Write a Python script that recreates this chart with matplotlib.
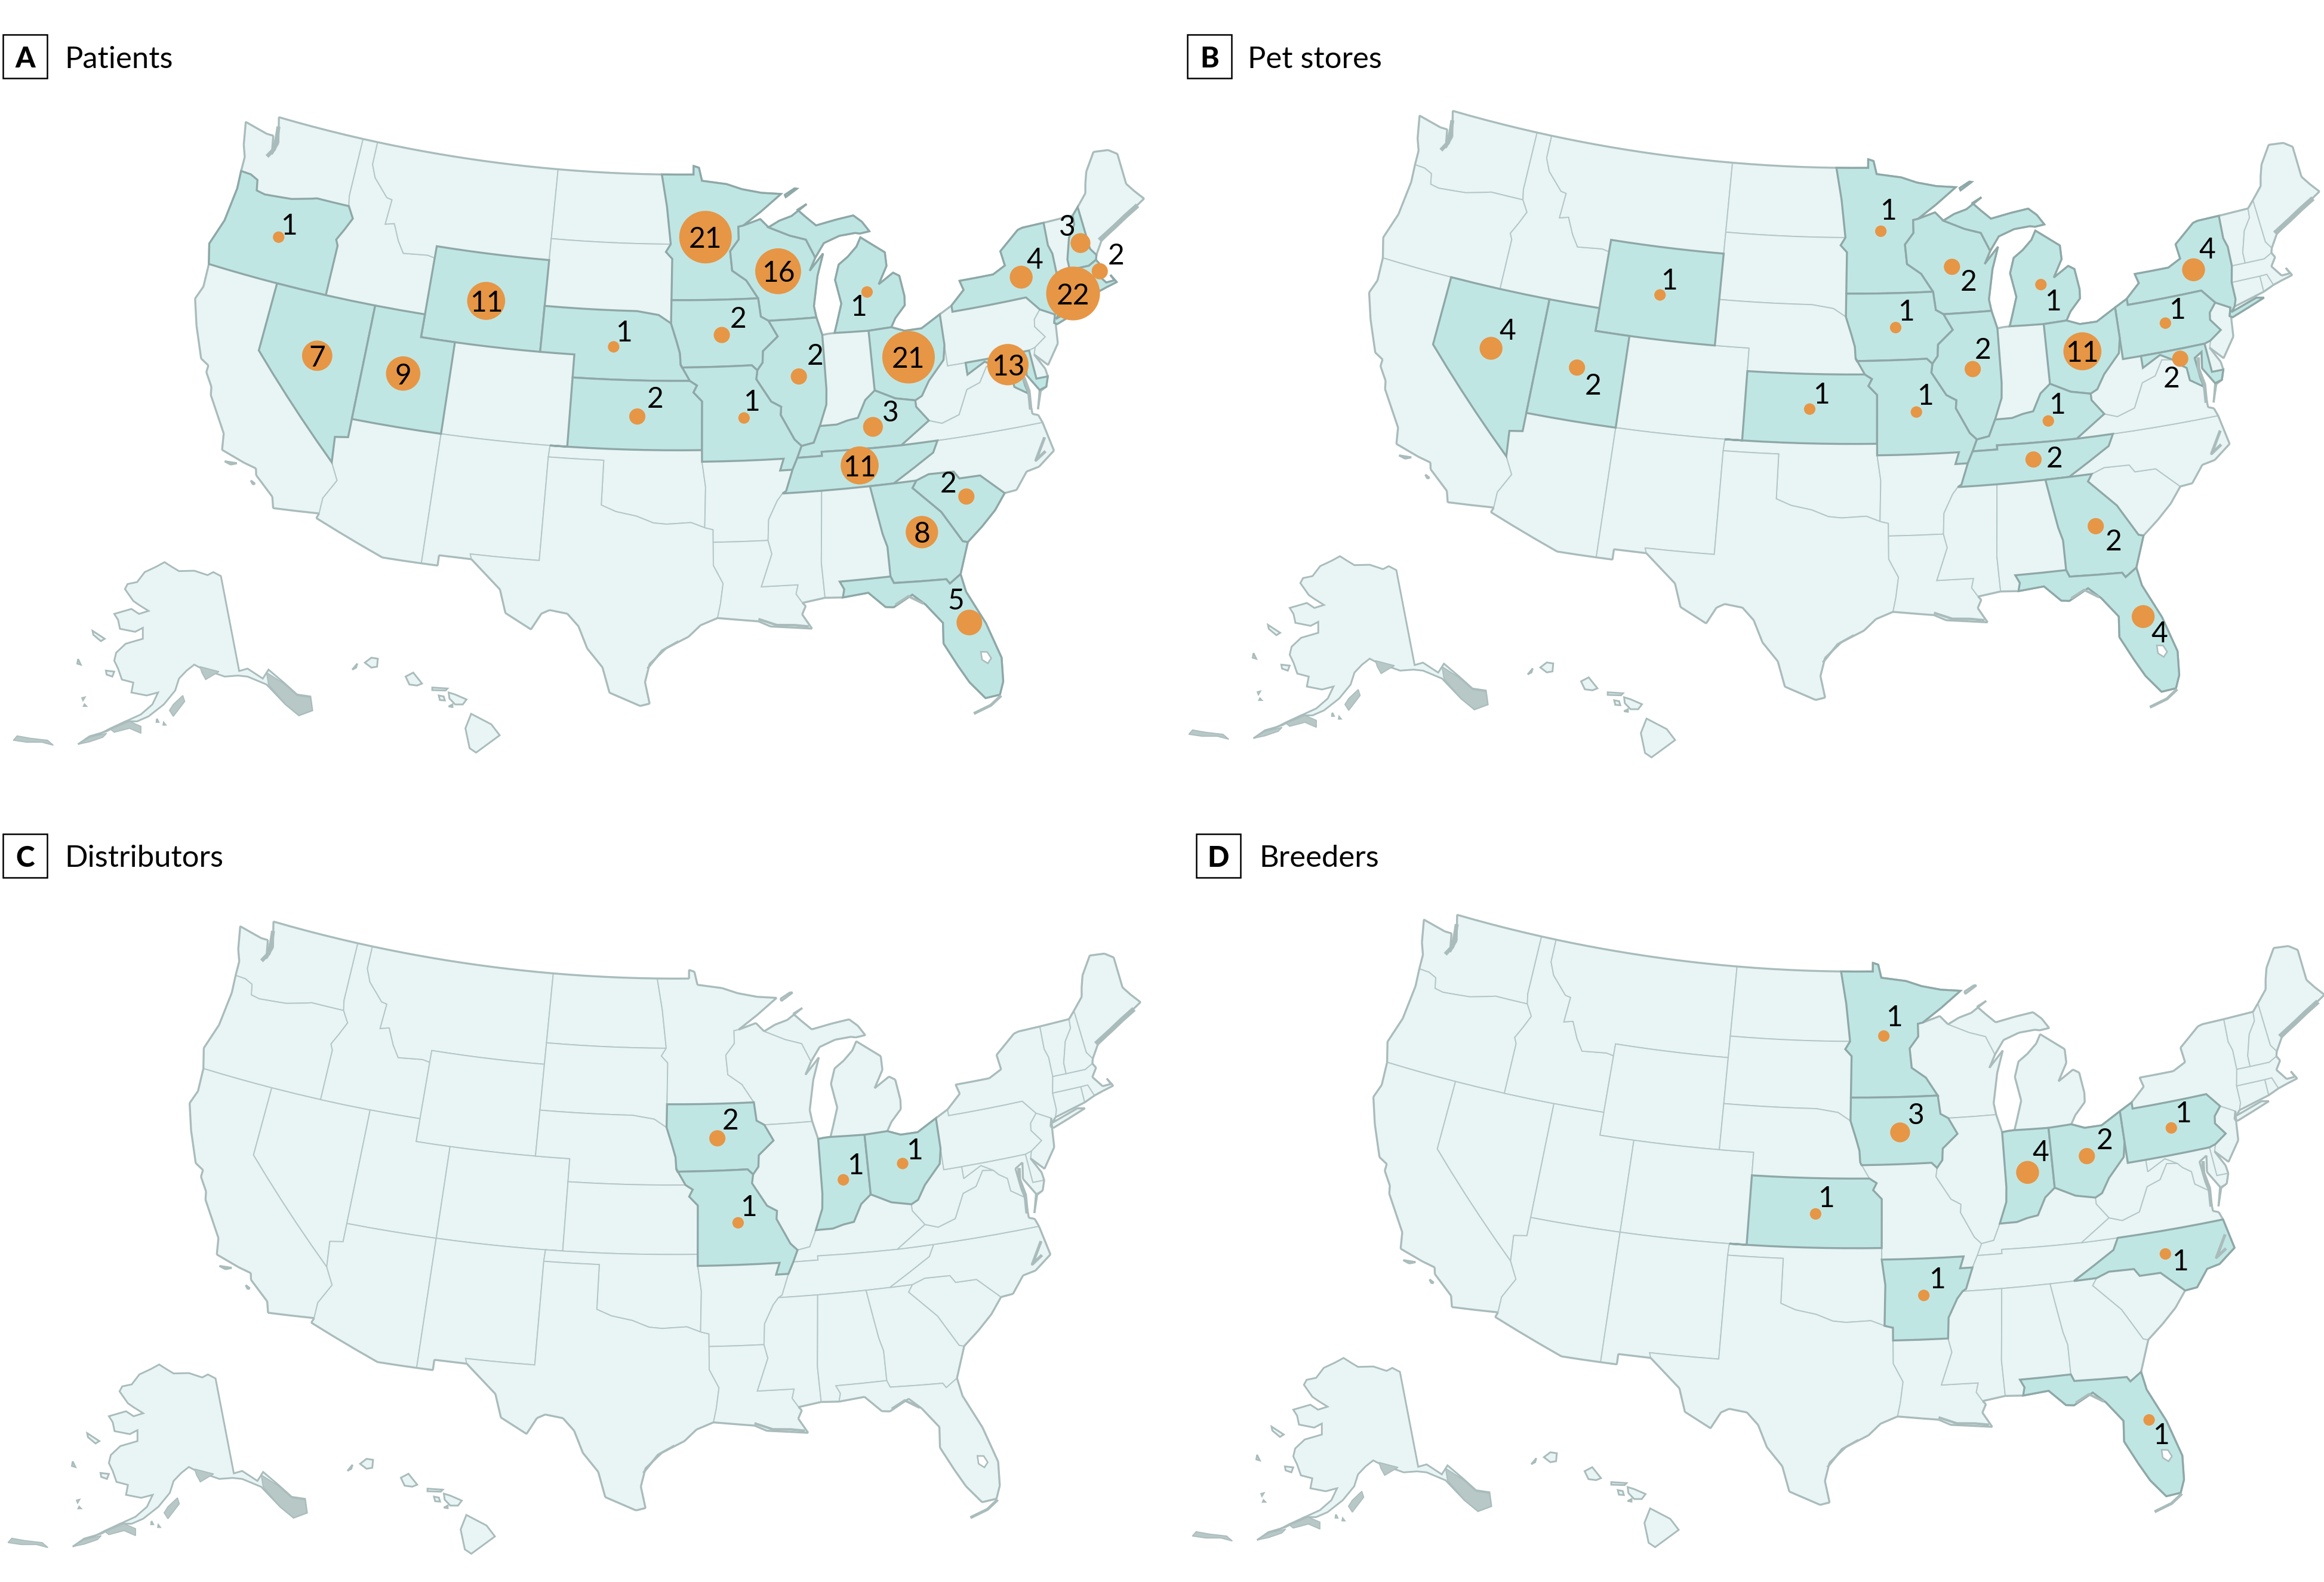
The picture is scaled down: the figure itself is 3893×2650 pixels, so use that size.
import numpy as np
import matplotlib
matplotlib.use("Agg")
import matplotlib.pyplot as plt
from matplotlib.collections import LineCollection
from matplotlib.patches import Rectangle

W, H = 3893, 2650
DPI = 300
SCALE = 3893 / 1568  # dot and label positions were read on the 1568 wide view

FILL_LIGHT = "#e9f4f5"
FILL_ON = "#c0e6e4"
EDGE_LIGHT = "#b3c6c6"
EDGE_ON = "#8ea8a7"
COAST = "#a9bcbb"
DOT = "#e69645"

# state outlines, lon/lat
STATES = {
    "WA": [[(-124.73,48.38),(-123.2,48.15),(-122.75,48.15),(-122.5,47.35),(-122.3,47.9),(-122.75,49.0),(-117.03,49.0),(-117.04,46.42),(-116.92,45.99),(-118.98,46.0),(-119.3,45.93),(-120.5,45.7),(-121.2,45.65),(-122.2,45.58),(-122.75,45.65),(-122.9,46.1),(-123.4,46.25),(-124.05,46.27),(-124.1,46.9),(-124.4,47.4)]],
    "OR": [[(-123.4,46.25),(-122.9,46.1),(-122.75,45.65),(-122.2,45.58),(-121.2,45.65),(-120.5,45.7),(-119.3,45.93),(-118.98,46.0),(-116.92,45.99),(-116.5,45.5),(-116.85,44.95),(-117.2,44.45),(-117.03,44.2),(-117.03,42.0),(-120.0,42.0),(-124.2,42.0),(-124.55,42.85),(-124.1,44.0),(-123.95,45.5),(-124.05,46.27)]],
    "CA": [[(-124.2,42.0),(-120.0,42.0),(-120.0,39.0),(-114.63,35.0),(-114.15,34.27),(-114.7,33.4),(-114.72,32.72),(-117.12,32.53),(-117.3,33.0),(-118.4,33.75),(-118.5,34.03),(-119.2,34.15),(-120.5,34.45),(-120.65,35.15),(-121.9,36.6),(-122.0,36.95),(-122.5,37.5),(-122.5,37.8),(-123.0,38.0),(-123.8,39.3),(-124.35,40.4),(-124.1,41.0)],
           [(-120.2,34.0),(-119.55,34.05),(-119.85,33.93)],
           [(-118.6,33.47),(-118.35,33.38),(-118.45,33.33)]],
    "NV": [[(-120.0,42.0),(-117.03,42.0),(-114.04,42.0),(-114.04,37.0),(-114.04,36.2),(-114.75,36.1),(-114.63,35.0),(-120.0,39.0)]],
    "ID": [[(-117.03,49.0),(-116.05,49.0),(-116.05,48.0),(-115.7,47.45),(-114.7,46.7),(-114.35,46.65),(-114.45,45.55),(-113.9,45.65),(-113.45,44.95),(-113.0,44.45),(-111.5,44.55),(-111.05,44.48),(-111.05,42.0),(-114.04,42.0),(-117.03,42.0),(-117.03,44.2),(-117.2,44.45),(-116.85,44.95),(-116.5,45.5),(-116.92,45.99),(-117.04,46.42)]],
    "MT": [[(-116.05,49.0),(-104.05,49.0),(-104.05,45.94),(-104.05,45.0),(-111.05,45.0),(-111.05,44.48),(-111.5,44.55),(-113.0,44.45),(-113.45,44.95),(-113.9,45.65),(-114.45,45.55),(-114.35,46.65),(-114.7,46.7),(-115.7,47.45),(-116.05,48.0)]],
    "WY": [[(-111.05,45.0),(-104.05,45.0),(-104.05,43.0),(-104.05,41.0),(-109.05,41.0),(-111.05,41.0),(-111.05,42.0),(-111.05,44.48)]],
    "UT": [[(-114.04,42.0),(-111.05,42.0),(-111.05,41.0),(-109.05,41.0),(-109.05,37.0),(-114.04,37.0)]],
    "CO": [[(-109.05,41.0),(-104.05,41.0),(-102.05,41.0),(-102.05,40.0),(-102.05,37.0),(-103.0,37.0),(-109.05,37.0)]],
    "AZ": [[(-114.04,37.0),(-109.05,37.0),(-109.05,31.33),(-111.07,31.33),(-114.81,32.5),(-114.72,32.72),(-114.7,33.4),(-114.15,34.27),(-114.63,35.0),(-114.75,36.1),(-114.04,36.2)]],
    "NM": [[(-109.05,37.0),(-103.0,37.0),(-103.04,36.5),(-103.04,32.0),(-106.62,32.0),(-106.53,31.78),(-108.21,31.78),(-108.21,31.33),(-109.05,31.33)]],
    "ND": [[(-104.05,49.0),(-97.23,49.0),(-96.85,47.6),(-96.56,45.94),(-104.05,45.94)]],
    "SD": [[(-104.05,45.94),(-96.56,45.94),(-96.85,45.6),(-96.45,45.3),(-96.45,43.5),(-96.45,42.49),(-97.2,42.85),(-98.5,43.0),(-104.05,43.0),(-104.05,45.0)]],
    "NE": [[(-104.05,43.0),(-98.5,43.0),(-97.2,42.85),(-96.45,42.49),(-96.1,41.7),(-95.9,41.2),(-95.85,40.7),(-95.31,40.0),(-102.05,40.0),(-102.05,41.0),(-104.05,41.0)]],
    "KS": [[(-102.05,40.0),(-95.31,40.0),(-94.9,39.8),(-95.1,39.5),(-94.61,39.11),(-94.62,37.0),(-103.0,37.0),(-102.05,37.0)]],
    "OK": [[(-103.0,37.0),(-94.62,37.0),(-94.62,36.5),(-94.43,35.4),(-94.48,33.64),(-95.2,33.87),(-96.5,33.8),(-97.2,33.85),(-98.1,34.13),(-99.2,34.3),(-100.0,34.56),(-100.0,36.5),(-103.04,36.5)]],
    "TX": [[(-103.04,36.5),(-100.0,36.5),(-100.0,34.56),(-99.2,34.3),(-98.1,34.13),(-97.2,33.85),(-96.5,33.8),(-95.2,33.87),(-94.48,33.64),(-94.04,33.55),(-94.04,33.0),(-94.04,32.0),(-93.55,31.2),(-93.7,30.3),(-93.85,29.7),(-94.7,29.4),(-95.3,28.9),(-96.4,28.4),(-97.2,27.7),(-97.4,26.9),(-97.15,25.96),(-97.6,25.85),(-99.1,26.4),(-99.5,27.5),(-100.3,28.3),(-100.8,29.25),(-101.4,29.77),(-102.3,29.88),(-102.7,29.7),(-103.15,28.98),(-104.5,29.6),(-104.9,30.6),(-106.53,31.78),(-106.62,32.0),(-103.04,32.0)]],
    "MN": [[(-97.23,49.0),(-95.15,49.0),(-95.15,49.38),(-94.8,49.3),(-94.6,48.72),(-93.0,48.55),(-92.0,48.3),(-90.75,48.1),(-89.5,48.0),(-90.8,47.3),(-92.0,46.7),(-92.3,46.66),(-92.3,46.1),(-92.85,45.6),(-92.75,44.75),(-91.9,44.3),(-91.22,43.5),(-96.45,43.5),(-96.45,45.3),(-96.85,45.6),(-96.56,45.94),(-96.85,47.6)]],
    "IA": [[(-96.45,43.5),(-91.22,43.5),(-91.1,42.7),(-90.65,42.5),(-90.15,41.8),(-91.05,41.2),(-91.1,40.7),(-91.42,40.38),(-91.73,40.61),(-95.77,40.58),(-95.85,40.7),(-95.9,41.2),(-96.1,41.7),(-96.45,42.49)]],
    "MO": [[(-95.77,40.58),(-91.73,40.61),(-91.42,40.38),(-91.5,40.0),(-90.7,39.0),(-90.15,38.75),(-90.2,38.4),(-89.5,37.3),(-89.13,37.0),(-89.4,36.5),(-89.7,36.0),(-90.37,36.0),(-90.15,36.5),(-94.62,36.5),(-94.62,37.0),(-94.61,39.11),(-95.1,39.5),(-94.9,39.8),(-95.31,40.0),(-95.85,40.7)]],
    "AR": [[(-94.62,36.5),(-90.15,36.5),(-90.37,36.0),(-89.7,36.0),(-90.1,35.1),(-90.3,35.0),(-90.6,34.7),(-91.1,33.9),(-91.17,33.0),(-94.04,33.0),(-94.04,33.55),(-94.48,33.64),(-94.43,35.4)]],
    "LA": [[(-94.04,33.0),(-91.17,33.0),(-91.0,32.4),(-91.6,31.0),(-89.73,31.0),(-89.85,30.6),(-89.55,30.2),(-89.4,30.05),(-89.6,29.7),(-89.15,29.05),(-90.1,29.15),(-91.2,29.25),(-91.8,29.5),(-92.6,29.58),(-93.85,29.7),(-93.7,30.3),(-93.55,31.2),(-94.04,32.0)]],
    "WI": [[(-92.3,46.66),(-92.0,46.7),(-90.9,46.95),(-90.4,46.57),(-89.1,46.15),(-88.1,45.92),(-87.6,45.1),(-88.0,44.55),(-87.1,45.25),(-87.55,44.3),(-87.9,43.0),(-87.8,42.5),(-90.65,42.5),(-91.1,42.7),(-91.22,43.5),(-91.9,44.3),(-92.75,44.75),(-92.85,45.6),(-92.3,46.1)]],
    "IL": [[(-90.65,42.5),(-87.8,42.5),(-87.53,41.72),(-87.53,39.35),(-87.6,38.7),(-88.05,37.8),(-88.45,37.1),(-89.13,37.0),(-89.5,37.3),(-90.2,38.4),(-90.15,38.75),(-90.7,39.0),(-91.5,40.0),(-91.42,40.38),(-91.1,40.7),(-91.05,41.2),(-90.15,41.8)]],
    "IN": [[(-87.53,41.72),(-87.2,41.75),(-86.8,41.76),(-84.8,41.7),(-84.81,39.1),(-85.4,38.73),(-85.9,38.0),(-86.5,37.93),(-87.1,37.8),(-88.05,37.8),(-87.6,38.7),(-87.53,39.35)]],
    "MI": [[(-86.8,41.76),(-84.8,41.7),(-83.45,41.73),(-83.15,42.1),(-82.5,42.6),(-82.45,43.0),(-82.6,43.9),(-82.95,44.07),(-83.9,43.65),(-83.3,44.4),(-83.3,45.0),(-84.7,45.78),(-85.0,45.4),(-85.6,45.0),(-86.2,44.7),(-86.5,44.05),(-86.25,43.0),(-86.6,42.2)],
           [(-90.4,46.57),(-89.1,46.15),(-88.1,45.92),(-87.6,45.1),(-87.0,45.7),(-86.0,45.95),(-85.0,46.0),(-84.7,45.95),(-84.1,46.0),(-84.5,46.45),(-85.0,46.77),(-86.1,46.67),(-87.4,46.5),(-88.0,46.9),(-88.5,47.25),(-87.9,47.47),(-88.9,47.0),(-89.7,46.83)],
           [(-89.2,47.85),(-88.45,48.18),(-88.6,48.2),(-89.25,47.95)]],
    "OH": [[(-84.8,41.7),(-83.45,41.73),(-82.7,41.5),(-81.7,41.5),(-80.52,41.98),(-80.52,40.64),(-80.7,40.0),(-81.7,39.2),(-82.2,38.6),(-82.6,38.45),(-83.7,38.65),(-84.81,39.1)]],
    "KY": [[(-89.4,36.5),(-88.05,36.5),(-88.05,36.68),(-86.5,36.65),(-83.68,36.6),(-82.0,37.5),(-82.6,38.17),(-82.6,38.45),(-83.7,38.65),(-84.81,39.1),(-85.4,38.73),(-85.9,38.0),(-86.5,37.93),(-87.1,37.8),(-88.05,37.8),(-88.45,37.1),(-89.13,37.0)]],
    "TN": [[(-89.7,36.0),(-89.4,36.5),(-88.05,36.5),(-88.05,36.68),(-86.5,36.65),(-83.68,36.6),(-81.68,36.59),(-82.0,36.1),(-84.32,35.0),(-85.6,35.0),(-88.2,35.0),(-90.3,35.0),(-90.1,35.1)]],
    "MS": [[(-90.3,35.0),(-88.2,35.0),(-88.47,31.9),(-88.4,30.35),(-89.55,30.2),(-89.85,30.6),(-89.73,31.0),(-91.6,31.0),(-91.0,32.4),(-91.17,33.0),(-91.1,33.9),(-90.6,34.7)]],
    "AL": [[(-88.2,35.0),(-85.6,35.0),(-85.18,32.87),(-85.0,32.3),(-85.0,31.0),(-87.6,31.0),(-87.4,30.65),(-87.5,30.3),(-88.4,30.35),(-88.47,31.9)]],
    "GA": [[(-85.6,35.0),(-84.32,35.0),(-83.1,35.0),(-83.35,34.7),(-82.0,33.5),(-81.1,32.1),(-80.85,32.03),(-81.45,30.7),(-82.05,30.36),(-82.2,30.57),(-84.86,30.7),(-85.0,31.0),(-85.0,32.3),(-85.18,32.87)]],
    "FL": [[(-87.6,31.0),(-85.0,31.0),(-84.86,30.7),(-82.2,30.57),(-82.05,30.36),(-81.45,30.7),(-81.3,29.9),(-80.55,28.4),(-80.05,26.8),(-80.15,25.75),(-80.4,25.2),(-81.1,25.15),(-81.75,25.95),(-82.2,26.75),(-82.75,27.8),(-82.65,28.7),(-83.4,29.6),(-84.0,30.1),(-85.0,29.65),(-85.4,29.7),(-86.2,30.4),(-87.5,30.3),(-87.4,30.65)]],
    "SC": [[(-83.35,34.7),(-83.1,35.0),(-82.4,35.2),(-81.05,35.15),(-80.8,34.82),(-79.68,34.8),(-78.55,33.86),(-79.2,33.2),(-80.0,32.6),(-80.85,32.03),(-81.1,32.1),(-82.0,33.5)]],
    "NC": [[(-84.32,35.0),(-83.1,35.0),(-82.4,35.2),(-81.05,35.15),(-80.8,34.82),(-79.68,34.8),(-78.55,33.86),(-77.9,33.9),(-77.2,34.6),(-76.5,34.7),(-75.55,35.25),(-75.85,36.55),(-81.68,36.59),(-82.0,36.1)]],
    "VA": [[(-83.68,36.6),(-81.68,36.59),(-75.85,36.55),(-76.0,36.9),(-76.3,37.0),(-76.3,37.9),(-77.0,38.3),(-77.05,38.85),(-77.5,39.1),(-77.75,39.32),(-78.35,39.4),(-78.87,38.77),(-79.65,38.57),(-80.3,37.55),(-81.3,37.3),(-82.0,37.5)],
           [(-75.95,37.15),(-75.6,37.9),(-75.25,38.03),(-75.65,37.95)]],
    "WV": [[(-82.0,37.5),(-82.6,38.17),(-82.6,38.45),(-82.2,38.6),(-81.7,39.2),(-80.7,40.0),(-80.52,40.64),(-80.52,39.72),(-79.48,39.72),(-79.48,39.2),(-78.4,39.62),(-77.75,39.32),(-78.35,39.4),(-78.87,38.77),(-79.65,38.57),(-80.3,37.55),(-81.3,37.3)]],
    "PA": [[(-80.52,41.98),(-79.76,42.27),(-79.76,42.0),(-75.35,42.0),(-74.7,41.36),(-75.13,40.99),(-75.2,40.68),(-74.72,40.15),(-75.42,39.8),(-75.79,39.72),(-79.48,39.72),(-80.52,39.72),(-80.52,40.64)]],
    "NY": [[(-79.76,42.27),(-78.9,42.85),(-79.05,43.27),(-77.0,43.27),(-76.2,43.55),(-76.3,44.2),(-75.0,44.95),(-74.7,45.0),(-73.35,45.0),(-73.4,44.0),(-73.25,43.6),(-73.27,42.75),(-73.5,42.05),(-73.5,41.3),(-73.65,41.0),(-73.9,40.8),(-72.3,41.15),(-71.87,41.07),(-73.9,40.57),(-74.05,40.65),(-73.9,41.0),(-74.7,41.36),(-75.35,42.0),(-79.76,42.0)]],
    "NJ": [[(-73.9,41.0),(-74.7,41.36),(-75.13,40.99),(-75.2,40.68),(-74.72,40.15),(-75.42,39.8),(-75.55,39.5),(-74.9,38.93),(-74.1,39.75),(-74.0,40.45)]],
    "DE": [[(-75.79,39.72),(-75.42,39.8),(-75.55,39.5),(-75.1,38.8),(-75.05,38.45),(-75.7,38.46)]],
    "MD": [[(-79.48,39.72),(-75.79,39.72),(-75.7,38.46),(-75.05,38.45),(-75.25,38.03),(-75.65,37.95),(-76.2,38.7),(-76.05,39.4),(-76.5,39.2),(-76.4,38.3),(-76.3,37.9),(-77.0,38.3),(-77.05,38.85),(-77.5,39.1),(-77.75,39.32),(-78.4,39.62),(-79.48,39.2)]],
    "CT": [[(-73.5,42.05),(-71.8,42.02),(-71.8,41.32),(-73.65,41.0),(-73.5,41.3)]],
    "RI": [[(-71.8,42.02),(-71.38,42.02),(-71.15,41.5),(-71.8,41.32)]],
    "MA": [[(-73.5,42.05),(-73.27,42.75),(-72.46,42.73),(-71.3,42.7),(-70.8,42.87),(-70.65,42.65),(-71.0,42.3),(-70.55,41.8),(-70.05,41.8),(-70.2,42.07),(-69.95,41.7),(-70.6,41.6),(-71.15,41.5),(-71.38,42.02),(-71.8,42.02)]],
    "VT": [[(-73.35,45.0),(-71.5,45.0),(-71.55,44.6),(-72.05,44.1),(-72.45,43.2),(-72.46,42.73),(-73.27,42.75),(-73.25,43.6),(-73.4,44.0)]],
    "NH": [[(-71.5,45.0),(-71.08,45.3),(-70.98,43.4),(-70.7,43.07),(-70.8,42.87),(-71.3,42.7),(-72.46,42.73),(-72.45,43.2),(-72.05,44.1),(-71.55,44.6)]],
    "ME": [[(-71.08,45.3),(-70.4,45.8),(-70.25,46.2),(-70.0,46.7),(-69.23,47.45),(-68.3,47.35),(-67.8,47.07),(-67.8,45.7),(-67.45,45.3),(-67.0,44.85),(-68.5,44.3),(-69.0,44.1),(-70.2,43.6),(-70.7,43.07),(-70.98,43.4)]],
}

# rough coast detail, lon/lat, with line widths
COAST_DETAIL = [
    [(-122.75,47.2),(-122.45,47.6),(-122.5,48.1),(-122.6,48.6)],
    [(-70.3,43.65),(-69.2,44.05),(-68.4,44.35),(-67.5,44.65)],
    [(-76.35,37.2),(-76.25,38.0),(-76.4,38.7),(-76.3,39.2)],
    [(-76.0,35.3),(-76.6,35.0),(-75.9,35.9)],
    [(-91.8,29.6),(-90.9,29.3),(-90.0,29.25),(-89.3,29.15)],
    [(-80.35,25.15),(-80.9,24.8),(-81.75,24.55)],
    [(-97.3,27.5),(-96.6,28.3),(-95.8,28.7)],
    [(-84.9,29.75),(-84.2,30.05),(-83.5,29.65)],
]
DETAIL_LW = [1.6, 2.0, 1.4, 1.2, 1.0, 1.2, 0.9, 1.0]
OKEECHOBEE = [(-81.0,27.2),(-80.7,27.15),(-80.55,26.85),(-80.75,26.65),(-81.0,26.85)]

# Alaska and Hawaii, read on panel A (crop coordinates of the lower left corner)
ALASKA = [(432,275),(450,297),(470,320),(510,318),(545,340),(560,325),(580,345),(628,822),(650,810),(690,860),(705,815),(745,880),(780,940),(815,950),(820,1020),(785,1045),(750,990),(700,890),(650,850),(625,845),(590,850),(560,830),(530,810),(510,790),(490,820),(470,860),(460,920),(430,990),(390,1050),(360,1075),(330,1075),(290,1110),(240,1160),(205,1190),(235,1150),(280,1125),(330,1075),(370,1040),(400,990),(415,930),(385,945),(345,930),(350,880),(320,865),(310,810),(300,770),(305,730),(330,685),(375,660),(375,605),(355,625),(315,610),(310,565),(300,535),(345,510),(365,535),(390,520),(365,490),(350,470),(328,410),(335,385),(360,375),(380,325),(410,298)]
ALASKA_ISLES = [
    [(243,620),(275,660),(265,672),(245,640)],
    [(278,820),(300,825),(295,850),(280,840)],
    [(205,762),(212,790),(203,785)],
    [(216,958),(222,955),(218,968)],
    [(222,990),(226,998),(220,998)],
    [(412,1062),(416,1078),(411,1078)],
    [(430,1082),(434,1092),(429,1092)],
]
ALASKA_DARK = [
    [(700,830),(745,885),(780,945),(815,955),(820,1020),(785,1045),(750,990),(705,890)],
    [(480,945),(485,975),(455,1050),(445,1020),(455,990)],
    [(525,800),(575,825),(540,865),(530,830)],
    [(35,1170),(45,1148),(80,1160),(125,1170),(140,1195),(110,1180),(70,1180)],
    [(290,1115),(340,1075),(370,1100),(370,1135),(340,1110),(300,1130)],
    [(205,1190),(235,1155),(280,1135),(270,1155),(235,1178)],
]
HAWAII = [
    [(925,815),(938,785),(935,805)],
    [(958,780),(975,755),(992,760),(990,800),(975,805)],
    [(1065,850),(1085,830),(1108,885),(1095,895),(1075,890)],
    [(1135,905),(1175,910),(1170,920),(1135,918)],
    [(1152,945),(1165,950),(1168,970),(1155,968)],
    [(1178,930),(1195,940),(1225,965),(1215,990),(1195,990),(1180,960)],
    [(1178,1000),(1188,990),(1188,1003)],
    [(1237,1037),(1290,1090),(1312,1145),(1280,1190),(1250,1232),(1233,1210),(1222,1110)],
]

# map anchor points: lon/lat and where they sit in each panel (full size pixels)
ANCHOR_LON = [-122.75,-111.05,-104.05,-120.0,-97.23,-80.52,-84.86,-80.4,-68.3,-67.0,-103.15,-97.15]
ANCHOR_LAT = [49.0,45.0,41.0,39.0,49.0,41.98,30.7,25.2,47.35,44.85,28.98,25.96]
ANCHOR_A = [(464,195),(730,415),(906,591),(434,585),(1107,295),(1578,529),(1506,973),(1664,1167),(1855,249),(1918,331),(896,1052),(1085,1179)]
ANCHOR_B = [(2431,184),(2698,404),(2871,580),(2400,575),(3074,284),(3547,518),(3474,961),(3632,1155),(3829,238),(3883,319),(2863,1041),(3060,1172)]
ANCHOR_C = [(456,1542),(721,1763),(898,1938),(424,1932),(1101,1642),(1569,1875),(1496,2319),(1660,2513),(1853,1596),(1909,1677),(885,2399),(1084,2529)]
ANCHOR_D = [(2439,1531),(2704,1752),(2881,1929),(2407,1920),(3081,1631),(3551,1860),(3479,2309),(3642,2503),(3841,1585),(3891,1664),(2871,2390),(3068,2520)]

# panel values
A_STATES = ["OR","MN","WI","MI","NY","NH","MA","CT","RI","WY","NE","IA","IL","OH","MD","NV","UT","KS","MO","KY","TN","SC","GA","FL"]
A_COUNTS = [1,21,16,1,4,3,2,22,11,1,2,2,21,13,7,9,2,1,3,11,2,8,5]
A_DOT_X = [188,476,525,585,689,729,742,724,328,414,487,539,613,680,214,272,430,502,589,580,652,622,654]
A_DOT_Y = [160,160,183,197,187,164,183,198,203,234,226,254,241,246,240,252,281,282,288,314,335,359,420]
A_TXT_X = [195,476,525,579,698,720,753,724,328,421,498,550,613,680,214,272,442,507,601,580,640,622,645]
A_TXT_Y = [151,160,183,206,174,152,171,198,203,223,214,239,241,246,240,252,268,270,277,314,325,359,404]

B_STATES = ["MN","WI","MI","NY","PA","WY","IA","IL","OH","MD","NV","UT","KS","MO","KY","TN","GA","FL"]
B_COUNTS = [1,2,1,4,1,1,1,2,11,2,4,2,1,1,1,2,2,4]
B_DOT_X = [1269,1317,1377,1480,1461,1120,1279,1331,1405,1471,1006,1064,1221,1293,1382,1372,1414,1446]
B_DOT_Y = [156,180,192,182,218,199,221,249,237,242,235,248,276,278,284,310,355,416]
B_TXT_X = [1274,1328,1385,1489,1469,1126,1286,1338,1405,1465,1017,1075,1229,1299,1388,1386,1426,1457]
B_TXT_Y = [141,189,202,167,208,188,209,235,237,254,222,259,265,266,272,308,364,426]

C_STATES = ["IA","MO","IN","OH"]
C_COUNTS = [2,1,1,1]
C_DOT_X = [484,498,569,609]
C_DOT_Y = [768,825,796,785]
C_TXT_X = [493,505,577,617]
C_TXT_Y = [755,813,785,775]

D_STATES = ["MN","IA","IN","OH","PA","KS","AR","NC","FL"]
D_COUNTS = [1,3,4,2,1,1,1,1,1]
D_DOT_X = [1271,1282,1368,1408,1465,1225,1298,1461,1450]
D_DOT_Y = [699,764,791,780,761,819,874,846,958]
D_TXT_X = [1278,1293,1377,1420,1473,1232,1307,1471,1458]
D_TXT_Y = [685,751,776,768,750,807,862,850,967]


def albers(lon, lat):
    p1, p2, p0, l0 = np.radians([29.5, 45.5, 37.5, -96.0])
    n = (np.sin(p1) + np.sin(p2)) / 2
    c = np.cos(p1) ** 2 + 2 * n * np.sin(p1)
    rho = np.sqrt(c - 2 * n * np.sin(np.radians(lat))) / n
    rho0 = np.sqrt(c - 2 * n * np.sin(p0)) / n
    th = n * (np.radians(lon) - l0)
    return rho * np.sin(th), rho0 - rho * np.cos(th)


def fit_panel(anchor):
    x, y = albers(np.array(ANCHOR_LON), np.array(ANCHOR_LAT))
    m = np.column_stack([x, y, np.ones_like(x)])
    return np.linalg.lstsq(m, np.array(anchor, dtype=float), rcond=None)[0]


def to_pixels(points, coef):
    """Lon/lat points to pixels, long edges split so parallels come out curved."""
    pts = []
    for (a, b), (c, d) in zip(points[:-1], points[1:]):
        k = max(1, int(max(abs(c - a), abs(d - b))))
        for t in np.arange(k) / k:
            pts.append((a + (c - a) * t, b + (d - b) * t))
    pts.append(points[-1])
    pts = np.array(pts)
    x, y = albers(pts[:, 0], pts[:, 1])
    return np.column_stack([x, y, np.ones_like(x)]) @ coef


def outer_edges():
    """Edges that only one state uses: coast and national border."""
    seen = {}
    for rings in STATES.values():
        for ring in rings:
            closed = ring + ring[:1]
            for e in zip(closed[:-1], closed[1:]):
                key = tuple(sorted(e))
                seen[key] = seen.get(key, 0) + 1
    return [k for k, v in seen.items() if v == 1]


def crop_to_full(points, off):
    pts = np.array(points, dtype=float)
    return np.column_stack([pts[:, 0] * 0.638 + off[0], 850 + pts[:, 1] / 3 + off[1]])


def draw_map(ax, anchor, states_on, ak_off, hi_off):
    coef = fit_panel(anchor)
    for name, rings in STATES.items():
        for ring in rings:
            xy = to_pixels(ring + ring[:1], coef)
            ax.fill(xy[:, 0], xy[:, 1], fc=FILL_LIGHT, ec=EDGE_LIGHT, lw=0.45, zorder=1)
    outer = [to_pixels(list(e), coef) for e in OUTER]
    ax.add_collection(LineCollection(outer, colors=COAST, linewidths=0.8, zorder=2))

    for name in states_on:
        for ring in STATES[name]:
            xy = to_pixels(ring + ring[:1], coef)
            ax.fill(xy[:, 0], xy[:, 1], fc=FILL_ON, ec=EDGE_ON, lw=0.8, zorder=3)
    detail = [to_pixels(d, coef) for d in COAST_DETAIL]
    ax.add_collection(LineCollection(detail, colors=COAST, linewidths=DETAIL_LW, zorder=3))
    lake = to_pixels(OKEECHOBEE + OKEECHOBEE[:1], coef)
    ax.fill(lake[:, 0], lake[:, 1], fc="white", ec=COAST, lw=0.6, zorder=4)

    xy = crop_to_full(ALASKA, ak_off)
    ax.fill(xy[:, 0], xy[:, 1], fc=FILL_LIGHT, ec=COAST, lw=0.7, zorder=1)
    for isle in ALASKA_ISLES:
        xy = crop_to_full(isle, ak_off)
        ax.fill(xy[:, 0], xy[:, 1], fc=FILL_LIGHT, ec=COAST, lw=0.7, zorder=1)
    for isle in ALASKA_DARK:
        xy = crop_to_full(isle, ak_off)
        ax.fill(xy[:, 0], xy[:, 1], fc="#b7c8c7", ec=COAST, lw=0.4, zorder=2)
    for isle in HAWAII:
        xy = crop_to_full(isle, hi_off)
        ax.fill(xy[:, 0], xy[:, 1], fc=FILL_LIGHT, ec=COAST, lw=0.7, zorder=1)


def draw_values(ax, counts, dot_x, dot_y, txt_x, txt_y):
    r = 9.6 * np.sqrt(np.array(counts, dtype=float))
    s = (2 * r * 72 / DPI) ** 2
    ax.scatter(np.array(dot_x) * SCALE, np.array(dot_y) * SCALE, s=s, c=DOT, lw=0, zorder=5)
    for n, x, y in zip(counts, txt_x, txt_y):
        ax.text(x * SCALE, y * SCALE, str(n), ha="center", va="center_baseline",
                fontsize=11.5, color="black", zorder=6)


def draw_header(ax, letter, title, box_x, text_x, box_y):
    ax.add_patch(Rectangle((box_x, box_y), 74, 73, fc="white", ec="black", lw=0.6, zorder=6))
    ax.text(box_x + 37, box_y + 37, letter, ha="center", va="center_baseline",
            fontsize=11.5, fontweight="black", zorder=7)
    ax.text(text_x, box_y + 37, title, ha="left", va="center_baseline", fontsize=12.2, zorder=7)


plt.rcParams["font.family"] = ["Lato", "DejaVu Sans"]
fig = plt.figure(figsize=(W / DPI, H / DPI), dpi=DPI)
ax = fig.add_axes([0, 0, 1, 1])
ax.set_xlim(0, W)
ax.set_ylim(H, 0)
ax.axis("off")

OUTER = outer_edges()

draw_map(ax, ANCHOR_A, A_STATES, (0, 0), (0, 0))
draw_map(ax, ANCHOR_B, B_STATES, (1969, -10), (1969, 8))
draw_map(ax, ANCHOR_C, C_STATES, (-9, 1344), (-8, 1342))
draw_map(ax, ANCHOR_D, D_STATES, (1975, 1333), (1975, 1331))

draw_values(ax, A_COUNTS, A_DOT_X, A_DOT_Y, A_TXT_X, A_TXT_Y)
draw_values(ax, B_COUNTS, B_DOT_X, B_DOT_Y, B_TXT_X, B_TXT_Y)
draw_values(ax, C_COUNTS, C_DOT_X, C_DOT_Y, C_TXT_X, C_TXT_Y)
draw_values(ax, D_COUNTS, D_DOT_X, D_DOT_Y, D_TXT_X, D_TXT_Y)

draw_header(ax, "A", "Patients", 5, 108, 58)
draw_header(ax, "B", "Pet stores", 1989, 2090, 58)
draw_header(ax, "C", "Distributors", 5, 108, 1397)
draw_header(ax, "D", "Breeders", 2004, 2109, 1397)

fig.savefig("out.png", dpi=DPI)
